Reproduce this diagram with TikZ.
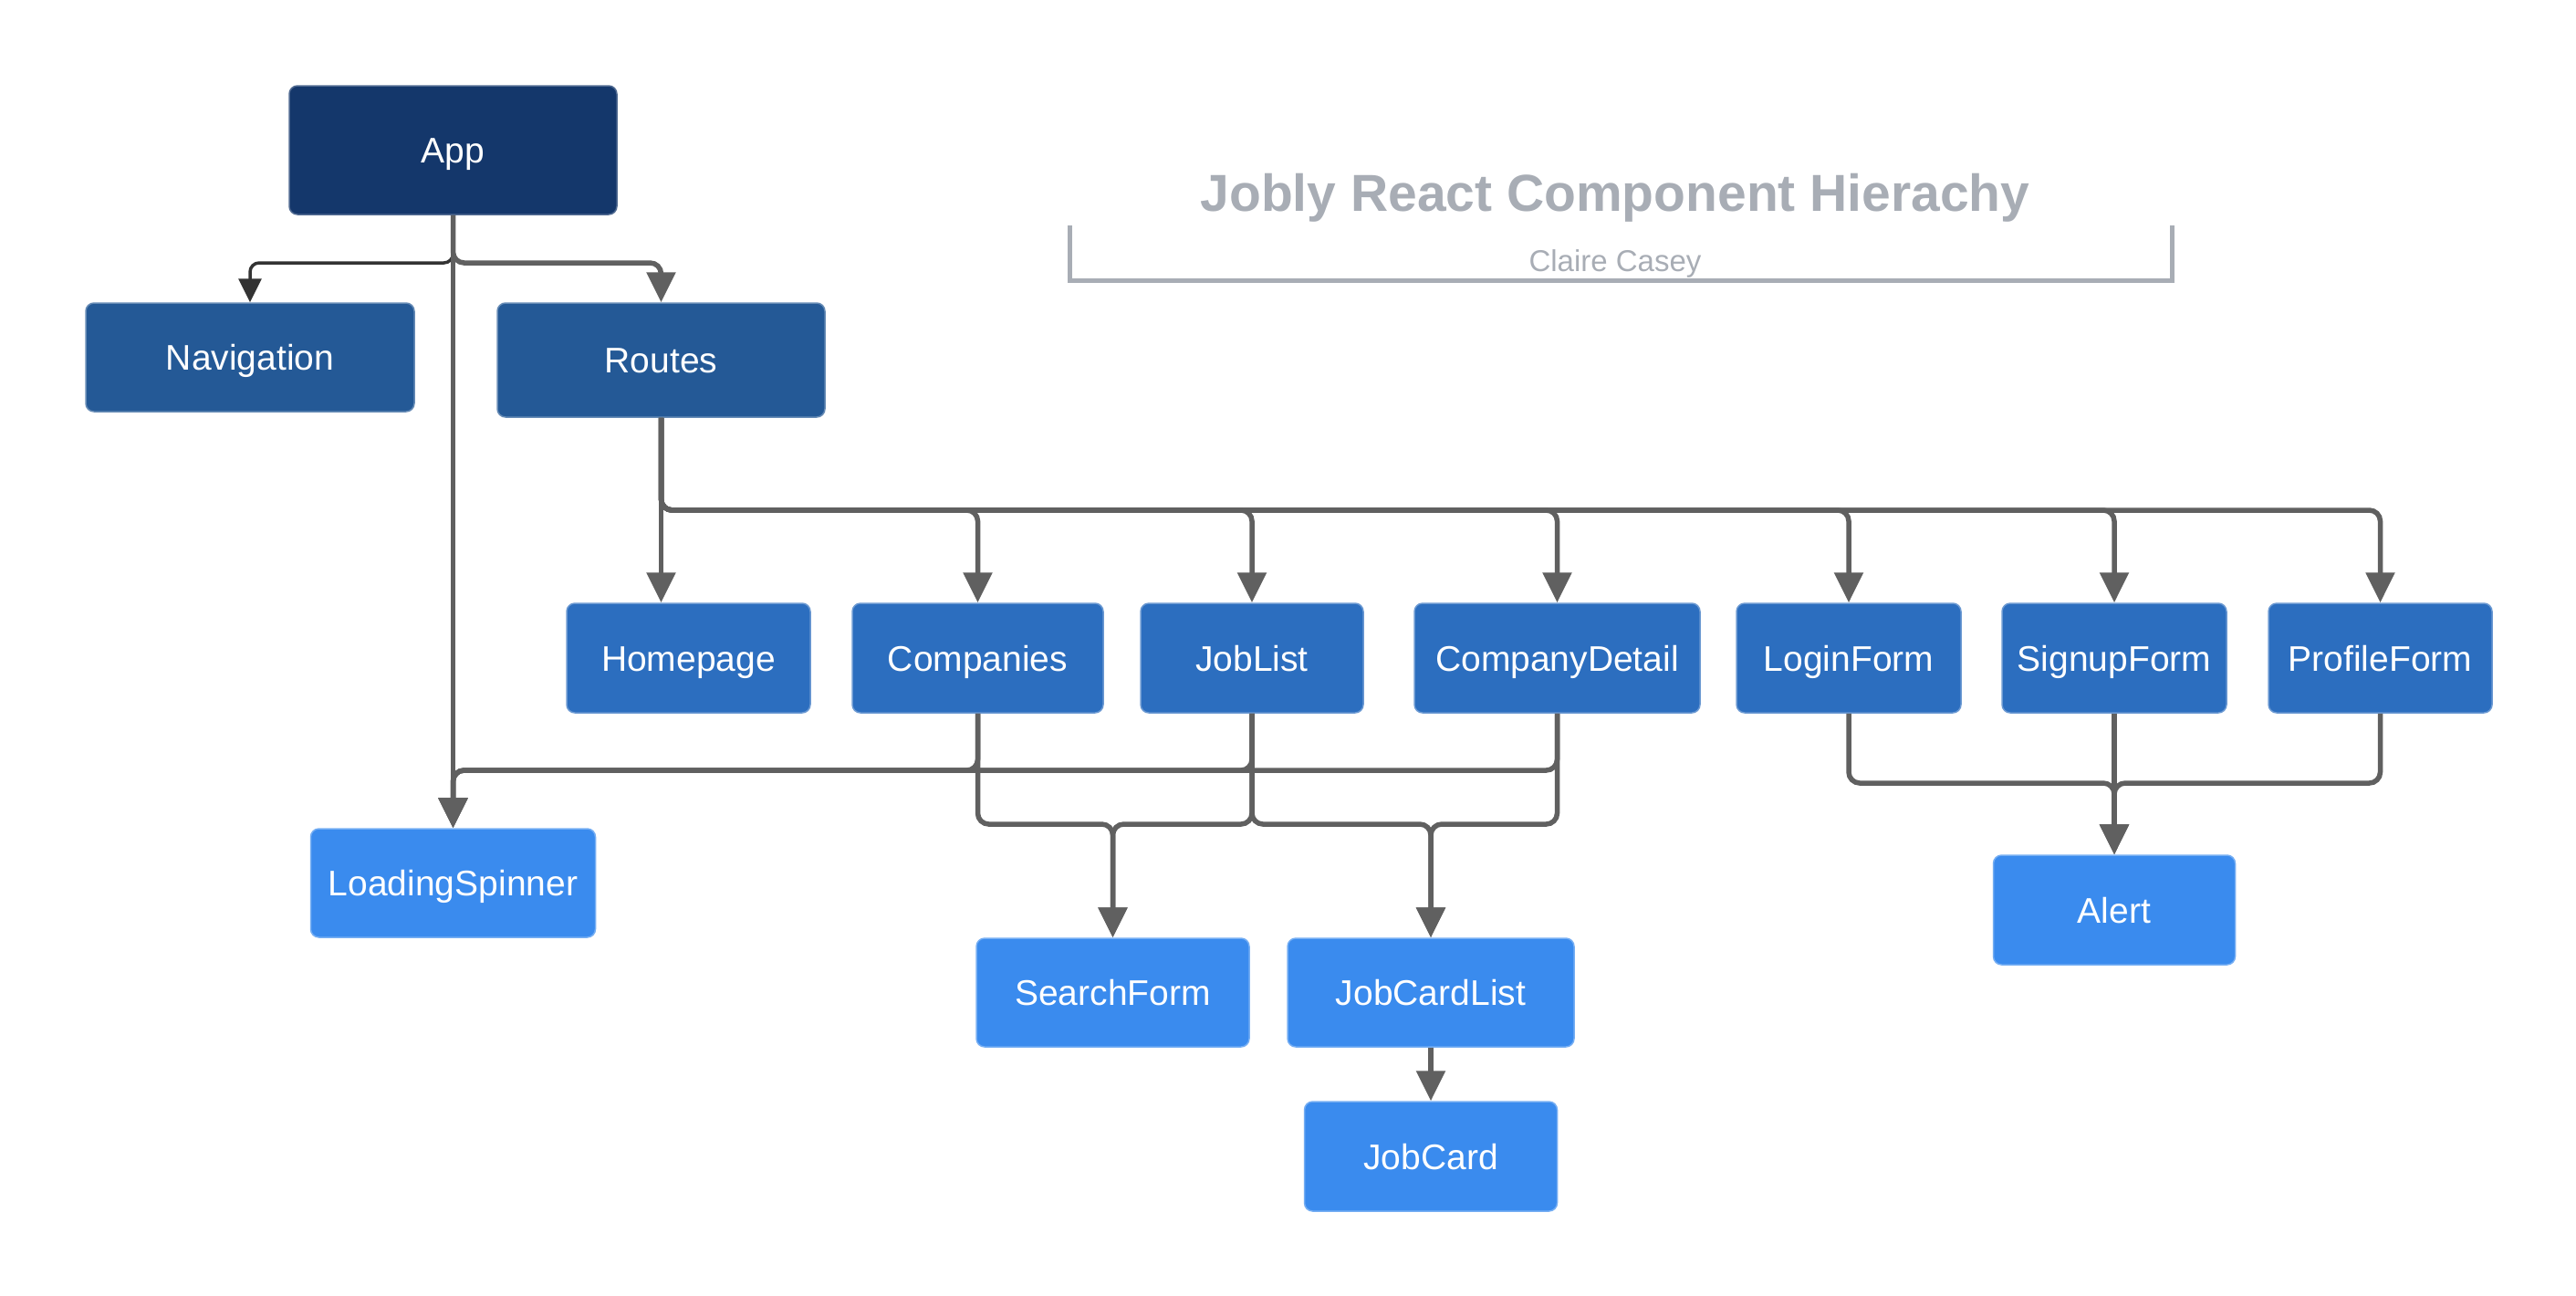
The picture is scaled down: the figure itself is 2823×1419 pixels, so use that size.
\documentclass[tikz,border=0pt]{standalone}
\usepackage{fontspec}
\setmainfont{Liberation Sans}
\usetikzlibrary{arrows.meta,calc}
\definecolor{lvA}{HTML}{14376B}
\definecolor{lvB}{HTML}{245996}
\definecolor{lvC}{HTML}{2C6EBF}
\definecolor{lvD}{HTML}{3A8BEE}
\definecolor{conngray}{HTML}{606060}
\definecolor{navgray}{HTML}{333333}
\definecolor{titlegray}{HTML}{A8ADB5}
\begin{document}
\begin{tikzpicture}[x=1pt,y=-1pt,
  box/.style={rectangle, rounded corners=9pt, inner sep=0pt, text=white,
    font=\fontsize{39}{47}\selectfont, line width=1.5pt,
    text height=28pt, text depth=0pt},
  boxA/.style={box, fill=lvA, draw=lvA!75!white},
  boxB/.style={box, fill=lvB, draw=lvB!70!white},
  boxC/.style={box, fill=lvC, draw=lvC!70!white},
  boxD/.style={box, fill=lvD, draw=lvD!70!white},
  conn/.style={draw=conngray, line width=5.5pt, rounded corners=12pt,
    -{Triangle[length=33pt,width=31pt]}},
  navconn/.style={draw=navgray, line width=3.5pt, rounded corners=10pt,
    -{Triangle[length=26pt,width=25pt]}},
  bracket/.style={draw=titlegray, line width=5pt}
]
\useasboundingbox (0,0) rectangle (2823,1419);

% title
\node[anchor=base, text=titlegray, font=\fontsize{57}{68}\selectfont\bfseries] (title) at (1770,231) {Jobly React Component Hierachy};
\node[anchor=base, text=titlegray, font=\fontsize{33}{40}\selectfont] (author) at (1770,297) {Claire Casey};
\draw[bracket] (1172,247) -- (1172,307) -- (2380,307) -- (2380,247);

% nodes
\node[boxA, minimum width=359pt, minimum height=141pt] (App) at (496.5,164.5) {App};
\node[boxB, minimum width=360pt, minimum height=119pt] (Navigation) at (274,391.5) {Navigation};
\node[boxB, minimum width=359pt, minimum height=125pt] (Routes) at (724.5,394.5) {Routes};

\node[boxC, minimum width=267pt, minimum height=120pt] (Homepage) at (754.5,721) {Homepage};
\node[boxC, minimum width=275pt, minimum height=120pt] (Companies) at (1071.5,721) {Companies};
\node[boxC, minimum width=244pt, minimum height=120pt] (JobList) at (1372,721) {JobList};
\node[boxC, minimum width=313pt, minimum height=120pt] (CompanyDetail) at (1706.5,721) {CompanyDetail};
\node[boxC, minimum width=246pt, minimum height=120pt] (LoginForm) at (2026,721) {LoginForm};
\node[boxC, minimum width=246pt, minimum height=120pt] (SignupForm) at (2317,721) {SignupForm};
\node[boxC, minimum width=245pt, minimum height=120pt] (ProfileForm) at (2608.5,721) {ProfileForm};

\node[boxD, minimum width=312pt, minimum height=119pt] (LoadingSpinner) at (496.5,967.5) {LoadingSpinner};
\node[boxD, minimum width=299pt, minimum height=119pt] (SearchForm) at (1219.5,1087.5) {SearchForm};
\node[boxD, minimum width=314pt, minimum height=119pt] (JobCardList) at (1568,1087.5) {JobCardList};
\node[boxD, minimum width=277pt, minimum height=120pt] (JobCard) at (1568,1267) {JobCard};
\node[boxD, minimum width=265pt, minimum height=120pt] (Alert) at (2317,997) {Alert};

% bus levels
\coordinate (appbus) at (0,288);
\coordinate (rbus) at (0,559);
\coordinate (lbus) at (0,844);
\coordinate (sbus) at (0,903);
\coordinate (abus) at (0,858);

% App connectors
\draw[navconn] (App.south) |- (Navigation.north |- appbus) -- (Navigation.north);
\draw[conn] (App.south) |- (Routes.north |- appbus) -- (Routes.north);
\draw[conn] (App.south) -- (App.south |- LoadingSpinner.north);

% Routes connectors
\draw[conn] (Routes.south) -- (Routes.south |- Homepage.north);
\foreach \c in {Companies,JobList,CompanyDetail,LoginForm,SignupForm,ProfileForm}{
  \draw[conn] (Routes.south) |- (\c.north |- rbus) -- (\c.north);
}

% to LoadingSpinner
\foreach \c in {Companies,JobList,CompanyDetail}{
  \draw[conn] (\c.south) |- (App.south |- lbus) -- (App.south |- LoadingSpinner.north);
}
% to SearchForm
\foreach \c in {Companies,JobList}{
  \draw[conn] (\c.south) |- (SearchForm.north |- sbus) -- (SearchForm.north);
}
% to JobCardList
\foreach \c in {JobList,CompanyDetail}{
  \draw[conn] (\c.south) |- (JobCardList.north |- sbus) -- (JobCardList.north);
}
\draw[conn] (JobCardList.south) -- (JobCard.north);

% to Alert
\foreach \c in {LoginForm,ProfileForm}{
  \draw[conn] (\c.south) |- (Alert.north |- abus) -- (Alert.north);
}
\draw[conn] (SignupForm.south) -- (SignupForm.south |- Alert.north);
\end{tikzpicture}
\end{document}
